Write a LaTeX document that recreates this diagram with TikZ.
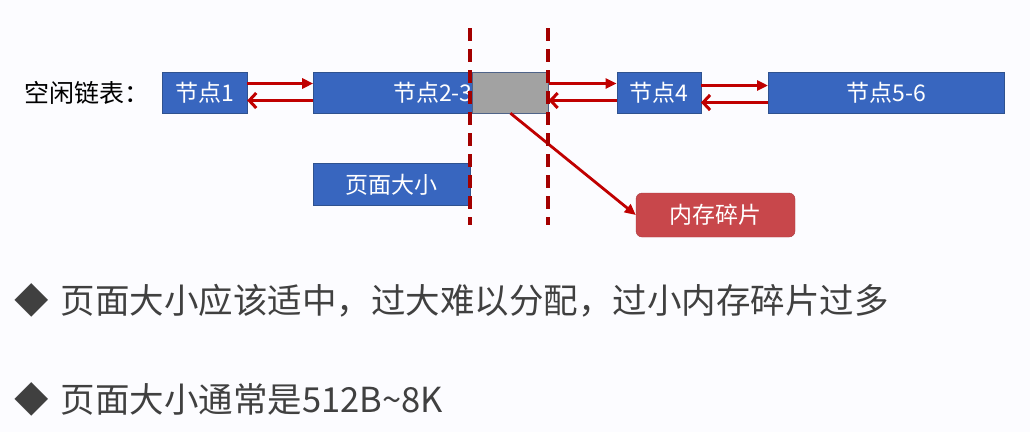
\documentclass[tikz,border=0pt]{standalone}
\usepackage{fontspec}
\setmainfont{Noto Sans CJK SC}
\usepackage{tikz}
\usetikzlibrary{positioning,arrows.meta}

\definecolor{nodeblue}{HTML}{3866BF}
\definecolor{nodeedge}{HTML}{2F528F}
\definecolor{linkred}{HTML}{C00000}
\definecolor{fragred}{HTML}{C8474B}
\definecolor{gapgray}{HTML}{A2A2A2}
\definecolor{notegray}{HTML}{404040}

\begin{document}
\begin{tikzpicture}[
  x=1pt,y=-1pt,
  font=\fontsize{23}{27}\selectfont,
  blk/.style={draw=nodeedge,fill=nodeblue,text=white,inner sep=0pt,
              minimum height=41pt},
  gapblk/.style={draw=nodeedge!60!gray,fill=gapgray,inner sep=0pt,
                 minimum width=76pt,minimum height=41pt},
  fragbox/.style={draw=fragred!85!black,fill=fragred,text=white,rounded corners=6pt,
                  inner sep=0pt,minimum width=159pt,minimum height=44pt},
  fwd/.style={-{Triangle[length=11pt,width=10pt]},draw=linkred,line width=3pt},
  bwd/.style={-{Straight Barb[length=7pt,width=15pt,line width=3pt]},draw=linkred,line width=3pt},
  cut/.style={draw=linkred!85!black,line width=3.2pt,dash pattern=on 13pt off 8pt},
  note/.style={anchor=west,inner sep=0pt,text=notegray,font=\fontsize{34.5}{40}\selectfont},
]
  \fill[white!99!blue] (0,0) rectangle (1030,432);
  \useasboundingbox (0,0) rectangle (1030,432);

  % free list
  \node[blk,minimum width=85pt] (n1) at (204.5,92.5) {节点1};
  \node[inner sep=0pt,left=12pt of n1,font=\fontsize{25}{29}\selectfont] (lbl) {空闲链表：};
  \node[blk,minimum width=235pt,right=66pt of n1] (n23) {\hspace{4pt}节点2-3};
  \node[gapblk,anchor=east] (gap) at (n23.east) {};
  \node[blk,minimum width=84pt,right=68pt of n23] (n4) {节点4};
  \node[blk,minimum width=236pt,right=67pt of n4] (n56) {节点5-6};

  \node[blk,minimum width=157pt,minimum height=42pt,anchor=north west] (psize)
    at ([yshift=-50pt]n23.south west) {页面大小};
  \node[fragbox] (frag) at (715.5,215) {内存碎片};

  % links
  \draw[fwd] ([yshift=9pt]n1.east) -- ([yshift=9pt]n23.west);
  \draw[bwd] ([yshift=-8pt]n23.west) -- ([yshift=-8pt]n1.east);
  \draw[fwd] ([yshift=9pt]gap.east) -- ([yshift=9pt]gap.east -| n4.west);
  \draw[bwd] ([yshift=-8pt]gap.east -| n4.west) -- ([yshift=-8pt]gap.east);
  \draw[fwd] ([yshift=7pt]n4.east) -- ([yshift=7pt]n4.east -| n56.west);
  \draw[bwd] ([yshift=-10pt]n4.east -| n56.west) -- ([yshift=-10pt]n4.east);
  \draw[linkred,line width=2.8pt,-{Triangle[length=11pt,width=10pt]}] (gap.south) -- (frag.west);

  % page boundaries
  \coordinate (cutL) at (470,28);
  \coordinate (cutR) at (548,28);
  \draw[cut] (cutL) -- ++(0,197);
  \draw[cut] (cutR) -- ++(0,197);

  % notes
  \node[note] (tip1) at (14,300) {◆\hspace{12pt}页面大小应该适中，过大难以分配，过小内存碎片过多};
  \node[note] (tip2) at (14,399) {◆\hspace{12pt}页面大小通常是512B\textasciitilde 8K};
\end{tikzpicture}
\end{document}
